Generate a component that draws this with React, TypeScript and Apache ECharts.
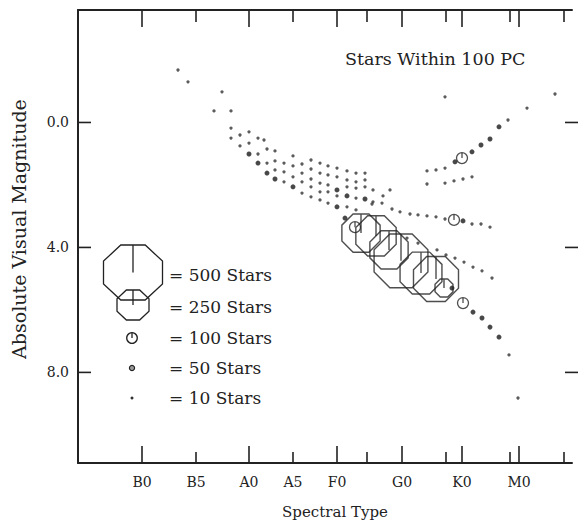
import React, { useEffect, useRef } from "react";
import * as echarts from "echarts";

// ---- Axis definitions (spectral position: 0 at the left frame, 100 at the picture's right edge) ----
const spectralLabels = ["B0", "B5", "A0", "A5", "F0", "G0", "K0", "M0"];
const spectralLabelPos = [12.8, 23.6, 34.2, 43.0, 51.8, 64.8, 76.8, 88.2];
const majorTickPos = [12.8, 34.2, 51.8, 64.8, 76.8, 88.2];
const minorTickPos = [23.6, 43.0, 57.8, 73.6, 86.4, 97.2];
const magnitudeTicks = [0, 4, 8];
const X_MIN = 0;
const X_MAX = 98.8;
const X_EDGE = 100;
const Y_MIN = -3.6;
const Y_MAX = 10.9;

// ---- Data: [spectral position, absolute visual magnitude] ----
const dots10: number[][] = [
  [20.0, -1.68], [22.0, -1.30], [28.8, -0.98], [27.2, -0.37], [30.6, -0.37],
  [30.6, 0.18], [30.6, 0.50], [32.4, 0.40], [32.4, 0.75], [34.2, 0.30], [34.2, 0.66],
  [36.0, 0.50], [36.0, 1.01], [37.2, 0.56], [37.8, 0.85], [37.8, 1.30],
  [39.4, 0.91], [39.4, 1.23], [39.4, 1.52],
  [41.2, 1.30], [41.2, 1.58], [41.2, 1.90],
  [43.0, 1.07], [43.0, 1.39], [43.0, 1.74],
  [44.8, 1.33], [44.8, 1.62], [44.8, 1.90], [44.8, 2.26],
  [46.6, 1.20], [46.6, 1.49], [46.6, 1.81], [46.6, 2.06], [46.6, 2.38],
  [48.4, 1.30], [48.4, 1.62], [48.4, 1.94], [48.4, 2.22], [48.4, 2.48],
  [50.0, 1.39], [50.0, 1.68], [50.0, 2.00], [50.0, 2.22], [50.0, 2.58],
  [51.8, 1.46], [51.8, 1.74], [51.8, 2.35],
  [53.8, 1.55], [53.8, 1.84], [53.8, 2.06], [53.8, 2.70],
  [55.6, 1.62], [55.6, 1.90], [55.6, 2.10], [55.6, 2.42], [55.6, 2.80],
  [57.4, 1.62], [57.4, 1.84], [57.4, 2.06],
  [59.0, 2.16], [59.0, 2.54], [61.0, 2.35], [62.4, 2.16],
  [58.8, 2.61], [60.8, 2.58], [62.8, 2.77],
  [64.4, 2.86], [66.4, 2.93], [68.0, 2.96], [69.8, 2.99], [71.6, 3.02], [73.4, 3.09],
  [78.8, 3.25], [80.6, 3.25], [82.4, 3.35],
  [65.8, 3.70], [68.0, 3.86], [71.8, 4.08], [73.6, 4.24], [75.4, 4.34], [77.2, 4.47],
  [79.0, 4.63], [80.8, 4.75], [82.8, 4.98],
  [73.4, -0.82], [95.4, -0.91], [89.8, -0.46], [86.0, -0.08],
  [73.4, 1.46], [71.6, 1.52], [69.8, 1.55],
  [69.8, 1.97], [73.4, 1.94], [75.2, 1.87], [77.0, 1.81], [78.8, 1.74],
  [86.2, 7.44], [88.0, 8.82],
];

const dots25: number[][] = [
  [34.2, 1.01], [36.0, 1.30], [37.8, 1.62], [39.4, 1.81], [43.0, 2.06],
  [51.8, 2.16], [51.8, 2.70], [53.8, 2.35], [57.4, 2.45], [53.4, 3.06],
  [84.2, 0.14], [82.4, 0.53], [80.6, 0.72], [78.8, 0.94], [75.4, 1.26],
  [77.0, 3.15],
  [79.0, 6.07], [80.8, 6.26], [82.4, 6.55], [84.2, 6.87], [74.8, 5.30],
];

const rings100: number[][] = [
  [55.4, 3.35], [77.0, 5.78], [76.8, 1.14], [75.2, 3.12],
];

// [spectral position, magnitude, number of stars]
const octagons: number[][] = [
  [56.6, 3.54, 310], [59.6, 3.63, 330], [62.2, 4.08, 310], [64.6, 4.43, 460],
  [68.6, 4.82, 345], [71.6, 5.01, 375], [73.2, 5.30, 115],
];

const legendLabels = ["= 500 Stars", "= 250 Stars", "= 100 Stars", "= 50 Stars", "= 10 Stars"];

const FONT = "DejaVu Serif";
const INK = "#222222";

const OCT_PATH =
  "path://M29.3,0L70.7,0L100,29.3L100,70.7L70.7,100L29.3,100L0,70.7L0,29.3ZM50,0L50,50";
const RING_PATH =
  "path://M50,0A50,50,0,1,1,50,100A50,50,0,1,1,50,0ZM50,0L50,50";

function octPoints(cx: number, cy: number, rx: number, ry: number) {
  const k = 0.4142;
  return [
    [cx - k * rx, cy - ry], [cx + k * rx, cy - ry], [cx + rx, cy - k * ry], [cx + rx, cy + k * ry],
    [cx + k * rx, cy + ry], [cx - k * rx, cy + ry], [cx - rx, cy + k * ry], [cx - rx, cy - k * ry],
  ];
}

function nearestLabel(v: number) {
  let best = 0;
  for (let i = 1; i < spectralLabelPos.length; i++) {
    if (Math.abs(spectralLabelPos[i] - v) < Math.abs(spectralLabelPos[best] - v)) best = i;
  }
  return spectralLabels[best];
}

// Tick marks on the bottom and top frame edges, placed through the axis scale
function xTickSeries(values: number[], lenBottom: number, lenTop: number) {
  return {
    type: "custom",
    silent: true,
    z: 5,
    data: values.map((v) => [v, 0]),
    renderItem: (_p: any, api: any) => {
      const v = api.value(0);
      const b = api.coord([v, Y_MAX]);
      const t = api.coord([v, Y_MIN]);
      return {
        type: "group",
        children: [
          { type: "line", shape: { x1: b[0], y1: b[1], x2: b[0], y2: b[1] - lenBottom }, style: { stroke: INK, lineWidth: 1.6 } },
          { type: "line", shape: { x1: t[0], y1: t[1], x2: t[0], y2: t[1] + lenTop }, style: { stroke: INK, lineWidth: 1.6 } },
        ],
      };
    },
  };
}

// Tick marks on the left frame and at the right edge of the picture
function yTickSeries(values: number[], len: number) {
  return {
    type: "custom",
    silent: true,
    z: 5,
    data: values.map((m) => [X_MIN, m]),
    renderItem: (_p: any, api: any) => {
      const m = api.value(1);
      const l = api.coord([X_MIN, m]);
      const r = api.coord([X_EDGE, m]);
      return {
        type: "group",
        children: [
          { type: "line", shape: { x1: l[0], y1: l[1], x2: l[0] + len, y2: l[1] }, style: { stroke: INK, lineWidth: 1.6 } },
          { type: "line", shape: { x1: r[0], y1: r[1], x2: r[0] - len, y2: r[1] }, style: { stroke: INK, lineWidth: 1.6 } },
        ],
      };
    },
  };
}

export default function App() {
  const ref = useRef<HTMLDivElement>(null);
  useEffect(() => {
    if (!ref.current) return;
    const chart = echarts.init(ref.current, null, { renderer: "svg" });
    const legendX = 133;
    const legendTextX = 169;
    const legendYs = [275, 307, 338, 368, 398];
    const stroke = () => ({ stroke: "#222", lineWidth: 1.3, fill: "none" });

    const graphics: any[] = [
      { type: "polygon", shape: { points: octPoints(legendX, 272.5, 29.5, 27.5) }, style: stroke() },
      { type: "line", shape: { x1: legendX, y1: 245, x2: legendX, y2: 272.5 }, style: stroke() },
      { type: "polygon", shape: { points: octPoints(legendX, 305, 16, 15) }, style: stroke() },
      { type: "line", shape: { x1: legendX, y1: 290, x2: legendX, y2: 305 }, style: stroke() },
      { type: "circle", shape: { cx: 132, cy: 338, r: 5.3 }, style: stroke() },
      { type: "line", shape: { x1: 132, y1: 332.7, x2: 132, y2: 338 }, style: stroke() },
      { type: "circle", shape: { cx: 132, cy: 368, r: 2.6 }, style: { stroke: "#222", lineWidth: 1.2, fill: "#999" } },
      { type: "circle", shape: { cx: 132, cy: 398, r: 1.5 }, style: { fill: "#333" } },
      ...legendLabels.map((t, i) => ({
        type: "text",
        x: legendTextX,
        y: legendYs[i],
        style: {
          text: t, fontFamily: FONT, fontSize: 17, fill: INK,
          textAlign: "left", textVerticalAlign: "middle", align: "left", verticalAlign: "middle",
        },
      })),
      {
        type: "text",
        x: 19,
        y: 229,
        rotation: Math.PI / 2,
        style: {
          text: "Absolute Visual Magnitude", fontFamily: FONT, fontSize: 19, fill: INK,
          textAlign: "center", textVerticalAlign: "middle", align: "center", verticalAlign: "middle",
        },
      },
      {
        type: "text",
        x: 335,
        y: 512,
        style: {
          text: "Spectral Type", fontFamily: FONT, fontSize: 15, fill: INK,
          textAlign: "center", textVerticalAlign: "middle", align: "center", verticalAlign: "middle",
        },
      },
    ];

    chart.setOption({
      animation: false,
      backgroundColor: "#ffffff",
      title: {
        text: "Stars Within 100 PC",
        left: 340,
        top: 45,
        textStyle: { fontFamily: FONT, fontSize: 17.5, fontWeight: "normal", color: INK },
      },
      grid: { left: 78, right: 6, top: 10, bottom: 62 },
      xAxis: [
        {
          type: "value", min: X_MIN, max: X_MAX, position: "bottom",
          splitLine: { show: false },
          axisLine: { show: true, onZero: false, lineStyle: { color: INK, width: 2 } },
          axisTick: { show: false },
          axisLabel: {
            show: true, customValues: spectralLabelPos, formatter: (v: number) => nearestLabel(v),
            margin: 12, fontFamily: FONT, fontSize: 14, color: INK,
          },
        },
        {
          type: "value", min: X_MIN, max: X_MAX, position: "top",
          splitLine: { show: false },
          axisLine: { show: true, onZero: false, lineStyle: { color: INK, width: 2 } },
          axisTick: { show: false },
          axisLabel: { show: false },
        },
      ],
      yAxis: [
        {
          type: "value", min: Y_MIN, max: Y_MAX, inverse: true, position: "left",
          splitLine: { show: false },
          axisLine: { show: true, onZero: false, lineStyle: { color: INK, width: 2 } },
          axisTick: { show: false },
          axisLabel: {
            show: true, customValues: magnitudeTicks, formatter: (v: number) => v.toFixed(1),
            margin: 9, fontFamily: FONT, fontSize: 14, color: INK,
          },
        },
      ],
      graphic: graphics,
      series: [
        xTickSeries(majorTickPos, 17, 17),
        xTickSeries(minorTickPos, 11, 12),
        yTickSeries(magnitudeTicks, 13),
        {
          name: "10 Stars", type: "scatter", data: dots10, symbol: "circle", symbolSize: 3.3,
          itemStyle: { color: "#333" },
        },
        {
          name: "25 Stars", type: "scatter", data: dots25, symbol: "circle", symbolSize: 5,
          itemStyle: { color: "#1a1a1a" },
        },
        {
          name: "100 Stars", type: "scatter", data: rings100, symbol: RING_PATH, symbolSize: 11,
          itemStyle: { color: "rgba(0,0,0,0)", borderColor: "#222", borderWidth: 1.3 },
        },
        {
          name: "Octagons", type: "scatter", data: octagons, symbol: OCT_PATH,
          symbolSize: (val: number[]) => 6 + 0.104 * val[2],
          itemStyle: { color: "rgba(0,0,0,0)", borderColor: "#222", borderWidth: 1.4 },
        },
      ],
    });
    return () => chart.dispose();
  }, []);
  return (
    <div
      ref={ref}
      style={{ position: "fixed", left: 0, top: 0, width: 578, height: 525, background: "#fff" }}
    />
  );
}
